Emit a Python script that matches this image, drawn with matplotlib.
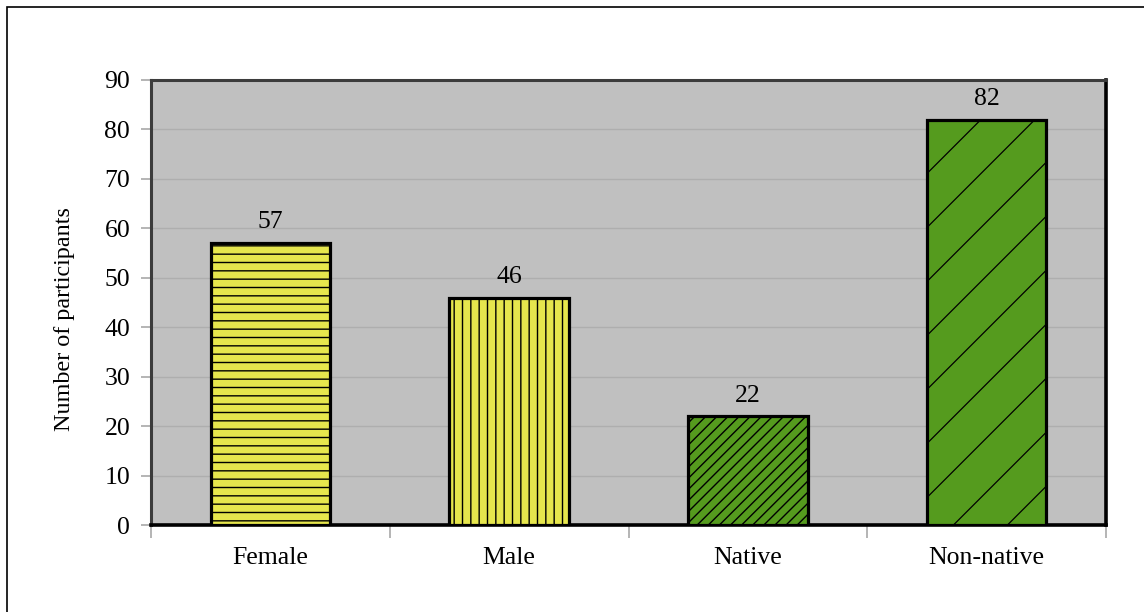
import matplotlib
matplotlib.use("Agg")
import matplotlib.pyplot as plt
import numpy as np
from matplotlib.patches import Rectangle
from matplotlib.transforms import IdentityTransform

categories = ["Female", "Male", "Native", "Non-native"]
counts = [57, 46, 22, 82]
bar_colors = ["#E6E64D", "#E6E64D", "#559B1E", "#559B1E"]
hatches = ["--", "||", "///", ""]

plt.rcParams["font.family"] = ["Liberation Serif", "DejaVu Serif"]
plt.rcParams["hatch.linewidth"] = 1.0
plt.rcParams["hatch.color"] = "#1a1a1a"

fig = plt.figure(figsize=(11.44, 6.12), dpi=100)
ax = fig.add_axes([151 / 1144, 87 / 612, 955 / 1144, 445 / 612])
ax.set_facecolor("#C0C0C0")

x = np.arange(len(categories))
bars = ax.bar(x, counts, width=0.5, color=bar_colors, edgecolor="black",
              linewidth=2.3, hatch=hatches, zorder=3)

ax.set_xlim(-0.5, len(categories) - 0.5)
ax.set_ylim(0, 90)
ax.set_yticks(np.arange(0, 91, 10))
ax.yaxis.grid(True, color="#AEAEAE", linewidth=1.0, zorder=0)
ax.set_axisbelow(True)

ax.set_xticks(x)
ax.set_xticklabels(categories)
ax.set_xticks(np.arange(-0.5, len(categories), 1), minor=True)
ax.tick_params(axis="x", which="major", length=0, pad=16, labelsize=18.5)
ax.tick_params(axis="x", which="minor", length=9, width=1.2, color="#A8A8A8")
ax.tick_params(axis="y", length=7, width=1.2, color="#A8A8A8", pad=8, labelsize=18.5)
ax.set_ylabel("Number of participants", fontsize=17.4)
ax.yaxis.set_label_coords(-0.08, 0.462)

for side in ["left", "top"]:
    ax.spines[side].set_color("#3c3c3c")
    ax.spines[side].set_linewidth(2.2)
for side in ["right", "bottom"]:
    ax.spines[side].set_color("black")
    ax.spines[side].set_linewidth(2.6)

for rect, v in zip(bars, counts):
    ax.annotate(str(v), (rect.get_x() + rect.get_width() / 2, v),
                xytext=(0, 7), textcoords="offset points",
                ha="center", va="bottom", fontsize=18.5)

# sparse diagonal hatch on the last bar, drawn in pixel space and clipped to the bar
last = bars[-1]
x0, y0 = ax.transData.transform((last.get_x(), 0))
x1, y1 = ax.transData.transform((last.get_x() + last.get_width(), last.get_height()))
step = 54
for off in np.arange(-(y1 - y0), (x1 - x0) + step, step):
    xs = [x0 + off, x0 + off + (y1 - y0)]
    ys = [y0, y1]
    ln = ax.plot(xs, ys, color="black", linewidth=0.9, transform=IdentityTransform(),
                 zorder=4)[0]
    ln.set_clip_path(last)

fig.patches.append(Rectangle((7 / 1144, -0.1), 1.2, (605 / 612) + 0.1,
                             transform=fig.transFigure, fill=False,
                             edgecolor="black", linewidth=1.2))

fig.savefig("out.png", dpi=100)
